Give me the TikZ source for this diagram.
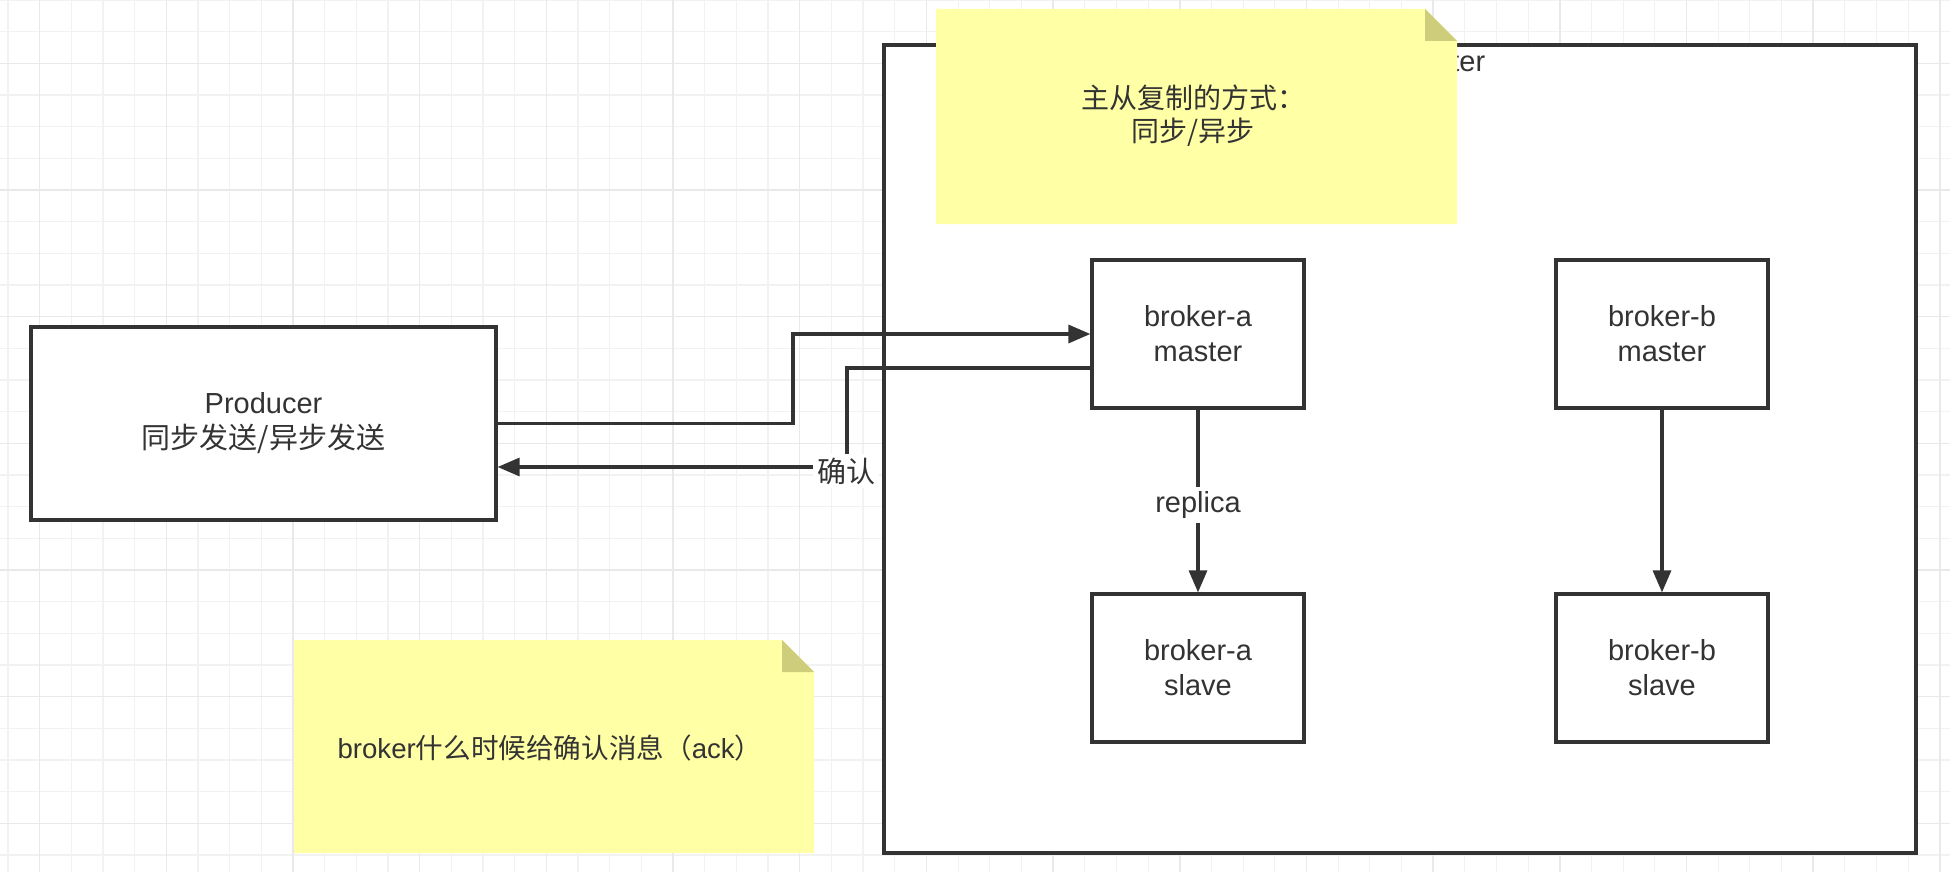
\documentclass[tikz,border=0pt]{standalone}
\usepackage{fontspec}
\setmainfont{Liberation Sans}
\newfontfamily\cjk{Noto Sans CJK SC}
\usetikzlibrary{arrows.meta}
\definecolor{ink}{HTML}{333333}
\definecolor{notefill}{HTML}{FFFFA6}
\definecolor{notefold}{HTML}{CDCD7C}
\definecolor{gridminor}{HTML}{F2F2F2}
\definecolor{gridmajor}{HTML}{E9E9E9}
\tikzset{
  boxnode/.style={draw=ink, line width=1.6pt, fill=white, rectangle, inner sep=0pt,
    text=ink, align=center, font=\fontsize{14.5}{17.5}\selectfont},
  conn/.style={draw=ink, line width=1.6pt, -{Triangle[length=11pt,width=9pt]}},
  lbl/.style={fill=white, text=ink, inner sep=2pt, font=\fontsize{14.5}{17.5}\selectfont},
  notebody/.style={fill=notefill, draw=none},
  notecorner/.style={fill=notefold, draw=none},
  notetext/.style={text=ink, align=center, font=\fontsize{14}{16.5}\selectfont},
}
\begin{document}
\begin{tikzpicture}[x=0.5pt,y=-0.5pt]
\useasboundingbox (0,0) rectangle (1950,872);
\fill[white] (0,0) rectangle (1950,872);
% grid
\begin{scope}
\clip (0,0) rectangle (1950,872);
\foreach \i in {0,...,61} \draw[gridminor, line width=0.6pt] ({8+31.67*\i},0) -- ({8+31.67*\i},872);
\foreach \j in {0,...,28} \draw[gridminor, line width=0.6pt] (0,{31.67*\j}) -- (1950,{31.67*\j});
\foreach \i in {0,...,15} \draw[gridmajor, line width=0.8pt] ({39.67+126.67*\i},0) -- ({39.67+126.67*\i},872);
\foreach \j in {0,...,6} \draw[gridmajor, line width=0.8pt] (0,{63.33+126.67*\j}) -- (1950,{63.33+126.67*\j});
\end{scope}

% cluster container
\node[boxnode, minimum width=516pt, minimum height=404pt] (cluster) at (1400,449) {};
\node[text=ink, font=\fontsize{14.5}{17.5}\selectfont, anchor=base west, inner sep=0pt] (clusterlbl) at (1451,72) {ter};

% top note
\fill[notebody] (936,9) -- (1425,9) -- (1457,41) -- (1457,224) -- (936,224) -- cycle;
\fill[notecorner] (1425,9) -- (1457,41) -- (1425,41) -- cycle;
\node[notetext] (note1) at (1193,116) {\cjk 主从复制的方式：\\ \cjk 同步/异步};

% bottom note
\fill[notebody] (294,640) -- (782,640) -- (814,672) -- (814,853) -- (294,853) -- cycle;
\fill[notecorner] (782,640) -- (814,672) -- (782,672) -- cycle;
\node[notetext, font=\fontsize{13.8}{16}\selectfont] (note2) at (550,748) {broker{\cjk 什么时候给确认消息（}ack{\cjk ）}};

% boxes
\node[boxnode, minimum width=232.5pt, minimum height=96.5pt] (prod) at (263.5,423.5) {Producer\\{\cjk 同步发送/异步发送}};
\node[boxnode, minimum width=106pt, minimum height=74pt] (bam) at (1198,334) {broker-a\\master};
\node[boxnode, minimum width=106pt, minimum height=74pt] (bas) at (1198,668) {broker-a\\slave};
\node[boxnode, minimum width=106pt, minimum height=74pt] (bbm) at (1662,334) {broker-b\\master};
\node[boxnode, minimum width=106pt, minimum height=74pt] (bbs) at (1662,668) {broker-b\\slave};

% send
\coordinate (s1) at (793,423.5);
\coordinate (s2) at (793,334);
\draw[conn] (prod.east) -- (s1) -- (s2) -- (bam.west);
% ack return
\coordinate (r0) at (1092,368);
\coordinate (r1) at (847,368);
\coordinate (r2) at (847,467);
\draw[conn] (r0) -- (r1) -- (r2) -- (prod.east |- r2);
\node[lbl] (ack) at (846,471) {\cjk 确认};

% replica
\draw[conn] (bam) -- (bas);
\node[lbl] (rep) at (1198,505) {replica};
\draw[conn] (bbm) -- (bbs);
\end{tikzpicture}
\end{document}
